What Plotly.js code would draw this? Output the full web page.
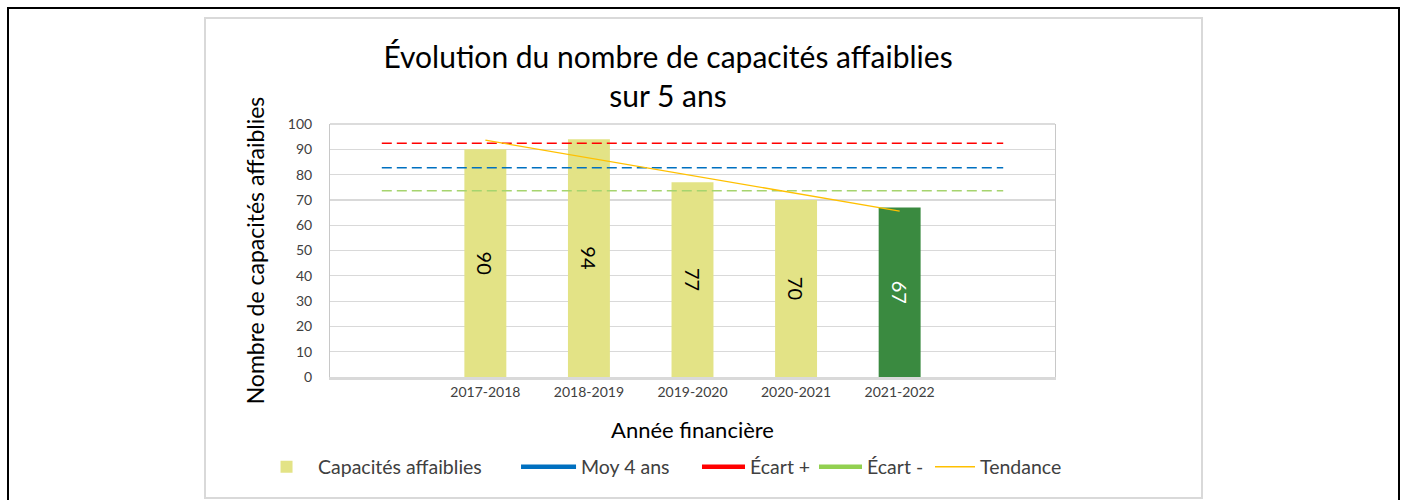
<!DOCTYPE html>
<html>
<head>
<meta charset="utf-8">
<script src="https://cdn.plot.ly/plotly-3.0.1.min.js"></script>
<style>
  html, body { margin: 0; padding: 0; background: #ffffff; }
  #wrap { position: relative; width: 1404px; height: 500px; overflow: hidden; }
  #chart { position: absolute; left: 0; top: 0; width: 1404px; height: 500px; }
  #outer { position: absolute; left: 7px; top: 7px; width: 1389px; height: 520px; border: 2px solid #000; pointer-events: none; }
  #frame { position: absolute; left: 204px; top: 17px; width: 995px; height: 478px; border: 2px solid #D9D9D9; pointer-events: none; }
</style>
</head>
<body>
<div id="wrap">
  <div id="chart"></div>
  <div id="outer"></div>
  <div id="frame"></div>
</div>
<script>
// ---- data ----
const categories = [' ', '2017-2018', '2018-2019', '2019-2020', '2020-2021', '2021-2022', '  '];
const years = ['2017-2018', '2018-2019', '2019-2020', '2020-2021', '2021-2022'];
const capacites = [90, 94, 77, 70, 67];
const moy4ans = [82.75, 82.75, 82.75, 82.75, 82.75, 82.75, 82.75];
const ecartPlus = [92.4, 92.4, 92.4, 92.4, 92.4, 92.4, 92.4];
const ecartMoins = [73.6, 73.6, 73.6, 73.6, 73.6, 73.6, 73.6];
const tendance = [93.6, 86.6, 79.6, 72.6, 65.6];
const barColors = ['#E3E386', '#E3E386', '#E3E386', '#E3E386', '#3A8A40'];
const textColors = ['#000000', '#000000', '#000000', '#000000', '#FFFFFF'];

const FONT = 'Lato, "Open Sans", sans-serif';

const traces = [
  {
    type: 'bar', name: 'Capacités affaiblies', x: years, y: capacites,
    width: 0.405,
    marker: { color: barColors },
    text: capacites.map(String), textposition: 'inside', insidetextanchor: 'middle',
    textangle: 90, insidetextfont: { size: 20, color: textColors, family: FONT },
    legend: 'legend', hoverinfo: 'x+y'
  },
  {
    type: 'scatter', mode: 'lines', name: 'Moy 4 ans', x: categories, y: moy4ans,
    line: { color: '#0070C0', width: 1.5, dash: '10px,5px' }, showlegend: false
  },
  {
    type: 'scatter', mode: 'lines', name: 'Écart +', x: categories, y: ecartPlus,
    line: { color: '#FF0000', width: 1.5, dash: '10px,5px' }, showlegend: false
  },
  {
    type: 'scatter', mode: 'lines', name: 'Écart -', x: categories, y: ecartMoins,
    line: { color: '#A6D46E', width: 1.5, dash: '10px,5px' }, showlegend: false
  },
  {
    type: 'scatter', mode: 'lines', name: 'Tendance', x: years, y: tendance,
    line: { color: '#FFC000', width: 1.3 }, showlegend: false
  },
  // legend entries (solid swatches like the original)
  { type: 'scatter', mode: 'lines', name: 'Moy 4 ans', x: [null], y: [null],
    line: { color: '#0070C0', width: 4.5 }, legend: 'legend2', hoverinfo: 'skip' },
  { type: 'scatter', mode: 'lines', name: 'Écart +', x: [null], y: [null],
    line: { color: '#FF0000', width: 4.5 }, legend: 'legend3', hoverinfo: 'skip' },
  { type: 'scatter', mode: 'lines', name: 'Écart -', x: [null], y: [null],
    line: { color: '#92D050', width: 4.5 }, legend: 'legend4', hoverinfo: 'skip' },
  { type: 'scatter', mode: 'lines', name: 'Tendance', x: [null], y: [null],
    line: { color: '#FFC000', width: 1.3 }, legend: 'legend5', hoverinfo: 'skip' }
];

function leg(x, iw) {
  return { x: x, y: -0.356, xanchor: 'left', yanchor: 'middle', orientation: 'h',
           itemwidth: iw,
           font: { family: FONT, size: 19.5, color: '#404040' }, bgcolor: 'rgba(0,0,0,0)',
           borderwidth: 0 };
}

const layout = {
  width: 1404, height: 500,
  margin: { l: 330, r: 349, t: 124, b: 123 },
  paper_bgcolor: 'rgba(0,0,0,0)', plot_bgcolor: '#ffffff',
  font: { family: FONT, color: '#595959' },
  title: {
    text: 'Évolution du nombre de capacités affaiblies<br>sur 5 ans',
    font: { family: FONT, size: 30, color: '#000000' },
    x: 0.4758, xref: 'container', xanchor: 'center',
    y: 0.864, yref: 'container', yanchor: 'middle'
  },
  xaxis: {
    type: 'category', categoryorder: 'array', categoryarray: categories,
    range: [-0.5, 6.5],
    showgrid: false, showline: true, linecolor: '#D9D9D9', linewidth: 3,
    ticks: '', tickfont: { family: FONT, size: 14, color: '#404040' },
    title: { text: 'Année financière', font: { family: FONT, size: 22, color: '#000000' }, standoff: 24 }
  },
  yaxis: {
    range: [0, 100], dtick: 10, tick0: 0,
    showgrid: true, gridcolor: '#D9D9D9', gridwidth: 1.2, zeroline: false,
    showline: true, linecolor: '#C8C8C8', linewidth: 1, mirror: true,
    ticks: '', ticklabelstandoff: 14,
    tickfont: { family: FONT, size: 14, color: '#404040' },
    title: { text: 'Nombre de capacités affaiblies', font: { family: FONT, size: 23, color: '#000000' }, standoff: 16 }
  },
  shapes: [
    { type: 'line', xref: 'paper', yref: 'paper', x0: 0, x1: 1, y0: 1, y1: 1,
      line: { color: '#D0D0D0', width: 1.5 } }
  ],
  legend: leg(-0.1034, 53),
  legend2: leg(0.2566, 55),
  legend3: leg(0.5062, 43),
  legend4: leg(0.6676, 43),
  legend5: leg(0.8276, 40),
  showlegend: true,
  bargap: 0.6
};

Plotly.newPlot('chart', traces, layout, { displayModeBar: false, staticPlot: true });
</script>
</body>
</html>
